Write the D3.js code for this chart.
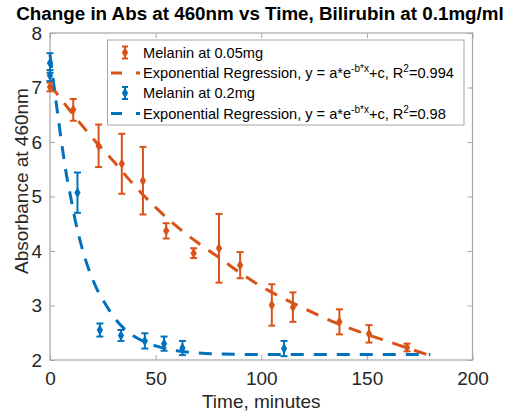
<!DOCTYPE html>
<html><head><meta charset="utf-8">
<script src="https://cdn.jsdelivr.net/npm/d3@7"></script>
<style>body{margin:0;background:#fff}svg{display:block}text{font-family:"Liberation Sans",Arial,Helvetica,sans-serif}</style>
</head><body>
<script>
// Melanin at 0.05mg (orange)
const orangeTime = [0, 11, 23, 34, 44, 55, 68, 80, 90, 105, 115, 137, 151, 169];
const orangeAbs  = [7.01, 6.59, 5.93, 5.60, 5.29, 4.37, 3.96, 4.05, 3.74, 3.01, 2.97, 2.70, 2.48, 2.23];
const orangeErr  = [0.08, 0.20, 0.39, 0.55, 0.62, 0.14, 0.09, 0.63, 0.24, 0.38, 0.27, 0.23, 0.16, 0.07];
// Melanin at 0.2mg (blue)
const blueTime = [0, 0, 13, 23.6, 33.6, 44.9, 54, 62.7, 110.8];
const blueAbs  = [7.45, 7.22, 5.07, 2.55, 2.45, 2.35, 2.30, 2.22, 2.21];
const blueErr  = [0.18, 0.10, 0.37, 0.12, 0.10, 0.14, 0.13, 0.13, 0.14];
// Regression curves
const orangeFitTime = [0, 10, 20, 30, 40, 50, 60, 70, 80, 90, 100, 110, 120, 130, 140, 150, 160, 170, 180];
const orangeFitAbs  = [7.05, 6.55, 6.08, 5.65, 5.20, 4.80, 4.45, 4.15, 3.88, 3.60, 3.35, 3.14, 2.95, 2.77, 2.61, 2.47, 2.34, 2.21, 2.08];
const blueFitTime = [0, 3, 6, 8, 10, 12, 15, 18, 22, 26, 30, 35, 40, 45, 50, 55, 60, 70, 80, 100, 140, 180];
const blueFitAbs  = [7.6, 6.7, 5.85, 5.35, 4.95, 4.55, 4.08, 3.70, 3.32, 3.04, 2.80, 2.58, 2.43, 2.33, 2.26, 2.21, 2.17, 2.13, 2.11, 2.10, 2.10, 2.10];
const xTicks = [0, 50, 100, 150, 200];
const yTicks = [2, 3, 4, 5, 6, 7, 8];
const title = "Change in Abs at 460nm vs Time, Bilirubin at 0.1mg/ml";
const xLabel = "Time, minutes";
const yLabel = "Absorbance at 460nm";
const legendNames = ["Melanin at 0.05mg", "Exponential Regression, y = a*e", "Melanin at 0.2mg", "Exponential Regression, y = a*e"];
const legendR2 = ["0.994", "0.98"];

const ORANGE = "#D95319", BLUE = "#0072BD";
const W = 515, H = 414;
const svg = d3.select("body").append("svg").attr("width", W).attr("height", H);
const x = d3.scaleLinear().domain([0, 200]).range([50, 472.5]);
const y = d3.scaleLinear().domain([2, 8]).range([360, 33]);

// axes box
const axCol = "#a6a6a6";
svg.append("rect").attr("x", x(0)).attr("y", y(8)).attr("width", x(200) - x(0)).attr("height", y(2) - y(8))
  .attr("fill", "none").attr("stroke", axCol).attr("stroke-width", 1.2);
const xAxis = svg.append("g").attr("transform", `translate(0,${y(2)})`)
  .call(d3.axisBottom(x).tickValues(xTicks).tickSize(-5).tickPadding(12).tickFormat(d3.format("d")));
const xAxisTop = svg.append("g").attr("transform", `translate(0,${y(8)})`)
  .call(d3.axisTop(x).tickValues(xTicks).tickSize(-5).tickFormat(""));
const yAxis = svg.append("g").attr("transform", `translate(${x(0)},0)`)
  .call(d3.axisLeft(y).tickValues(yTicks).tickSize(-5).tickPadding(8).tickFormat(d3.format("d")));
const yAxisR = svg.append("g").attr("transform", `translate(${x(200)},0)`)
  .call(d3.axisRight(y).tickValues(yTicks).tickSize(-5).tickFormat(""));
[xAxis, xAxisTop, yAxis, yAxisR].forEach(g => {
  g.select(".domain").remove();
  g.selectAll(".tick line").attr("stroke", axCol).attr("stroke-width", 1);
  g.selectAll(".tick text").attr("fill", "#262626").style("font-size", "19px");
});
xAxis.selectAll(".tick text").attr("dy", "0.71em");
yAxis.selectAll(".tick text").attr("dy", "0.34em");

// fit curves
const line = d3.line().x(d => x(d[0])).y(d => y(d[1])).curve(d3.curveMonotoneX);
function drawFit(ts, vs, col) {
  svg.append("path").datum(ts.map((t, i) => [t, vs[i]])).attr("d", line)
    .attr("fill", "none").attr("stroke", col).attr("stroke-width", 3).attr("stroke-dasharray", "13,10");
}
drawFit(orangeFitTime, orangeFitAbs, ORANGE);
drawFit(blueFitTime, blueFitAbs, BLUE);

// error bars
const diamond = d3.symbol().type(d3.symbolDiamond).size(34);
function drawErr(ts, vs, es, col) {
  const g = svg.append("g");
  ts.forEach((t, i) => {
    const cx = x(t), top = y(vs[i] + es[i]), bot = y(vs[i] - es[i]);
    g.append("line").attr("x1", cx).attr("x2", cx).attr("y1", top).attr("y2", bot).attr("stroke", col).attr("stroke-width", 2);
    [top, bot].forEach(yy => g.append("line").attr("x1", cx - 3.5).attr("x2", cx + 3.5).attr("y1", yy).attr("y2", yy).attr("stroke", col).attr("stroke-width", 2));
    g.append("path").attr("d", diamond).attr("transform", `translate(${cx},${y(vs[i])})`).attr("fill", col);
  });
}
drawErr(orangeTime, orangeAbs, orangeErr, ORANGE);
drawErr(blueTime, blueAbs, blueErr, BLUE);

// title & labels
svg.append("text").attr("x", 260).attr("y", 19.5).attr("text-anchor", "middle")
  .style("font-size", "18.8px").style("font-weight", "bold").attr("fill", "#000").text(title);
svg.append("text").attr("x", (x(0) + x(200)) / 2).attr("y", 408).attr("text-anchor", "middle")
  .style("font-size", "19px").attr("fill", "#262626").text(xLabel);
svg.append("text").attr("transform", "translate(28,181) rotate(-90)").attr("text-anchor", "middle")
  .style("font-size", "19px").attr("fill", "#262626").text(yLabel);

// legend
const lg = svg.append("g");
lg.append("rect").attr("x", 107.5).attr("y", 40).attr("width", 356.5).attr("height", 85)
  .attr("fill", "#fff").attr("stroke", axCol).attr("stroke-width", 1);
const rowsY = [52.5, 73, 93, 113.5];
const cols = [ORANGE, ORANGE, BLUE, BLUE];
rowsY.forEach((ry, i) => {
  const col = cols[i];
  if (i % 2 === 0) {
    lg.append("line").attr("x1", 125).attr("x2", 125).attr("y1", ry - 6).attr("y2", ry + 6).attr("stroke", col).attr("stroke-width", 2);
    [ry - 6, ry + 6].forEach(yy => lg.append("line").attr("x1", 122).attr("x2", 128).attr("y1", yy).attr("y2", yy).attr("stroke", col).attr("stroke-width", 2));
    lg.append("path").attr("d", diamond).attr("transform", `translate(125,${ry})`).attr("fill", col);
  } else {
    lg.append("line").attr("x1", 111).attr("x2", 140).attr("y1", ry).attr("y2", ry)
      .attr("stroke", col).attr("stroke-width", 3).attr("stroke-dasharray", "11,14");
  }
  const t = lg.append("text").attr("x", 143).attr("y", ry + 5).style("font-size", "14.6px").attr("fill", "#000");
  if (i % 2 === 0) {
    t.text(legendNames[i]);
  } else {
    t.append("tspan").text(legendNames[i]);
    t.append("tspan").attr("dy", -6).style("font-size", "10px").text("-b*x");
    t.append("tspan").attr("dy", 6).text("+c, R");
    t.append("tspan").attr("dy", -6).style("font-size", "10px").text("2");
    t.append("tspan").attr("dy", 6).text("=" + legendR2[(i - 1) / 2]);
  }
});
</script>
</body></html>
